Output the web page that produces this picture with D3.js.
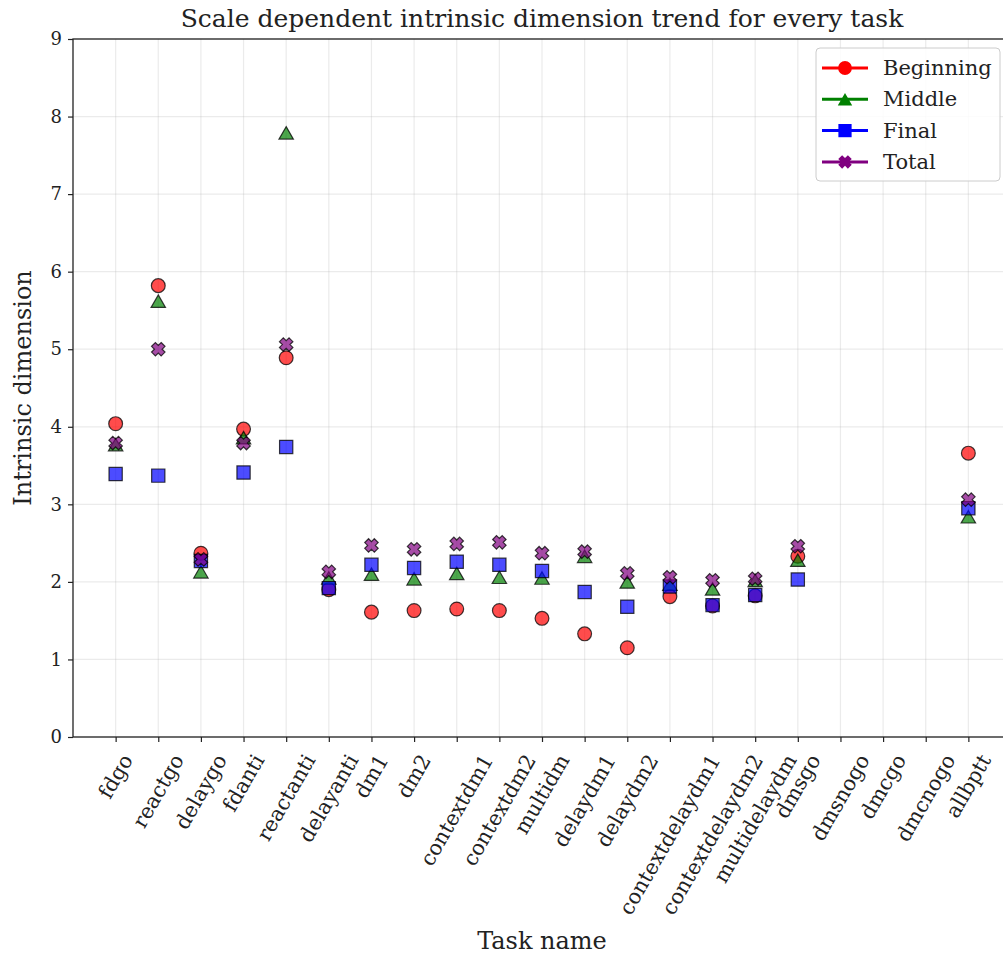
<!DOCTYPE html>
<html>
<head>
<meta charset="utf-8">
<script src="https://cdn.jsdelivr.net/npm/d3@7/dist/d3.min.js"></script>
<style>
  html, body { margin: 0; padding: 0; background: #fff; }
  svg { display: block; }
  text { font-family: "DejaVu Serif", serif; fill: #222; }
</style>
</head>
<body>
<svg id="chart" width="1003" height="955"></svg>
<script>
// Tasks along the x axis
const tasks = ["fdgo", "reactgo", "delaygo", "fdanti", "reactanti", "delayanti", "dm1", "dm2",
  "contextdm1", "contextdm2", "multidm", "delaydm1", "delaydm2", "contextdelaydm1",
  "contextdelaydm2", "multidelaydm", "dmsgo", "dmsnogo", "dmcgo", "dmcnogo", "allbptt"];

// Intrinsic dimension per phase (null = not measured)
const beginning = [4.04, 5.82, 2.37, 3.97, 4.89, 1.90, 1.61, 1.63, 1.65, 1.63, 1.53, 1.33, 1.15,
  1.81, 1.69, 1.82, 2.33, null, null, null, 3.66];
const middle = [3.77, 5.62, 2.13, 3.86, 7.79, 2.05, 2.10, 2.04, 2.11, 2.06, 2.05, 2.33, 2.00,
  1.97, 1.91, 2.02, 2.28, null, null, null, 2.84];
const final = [3.39, 3.37, 2.27, 3.41, 3.74, 1.92, 2.22, 2.18, 2.26, 2.22, 2.14, 1.87, 1.68,
  1.94, 1.70, 1.83, 2.03, null, null, null, 2.95];
const total = [3.79, 5.00, 2.29, 3.79, 5.06, 2.13, 2.47, 2.42, 2.49, 2.51, 2.37, 2.39, 2.11,
  2.06, 2.02, 2.04, 2.46, null, null, null, 3.06];

const yTicks = [0, 1, 2, 3, 4, 5, 6, 7, 8, 9];

const series = [
  { name: "Beginning", values: beginning, color: "red", symbol: d3.symbolCircle, size: 150 },
  { name: "Middle", values: middle, color: "green", symbol: d3.symbolTriangle, size: 90 },
  { name: "Final", values: final, color: "blue", symbol: d3.symbolSquare, size: 175 },
  { name: "Total", values: total, color: "purple", symbol: "X", size: 0 }
];

// Filled "X" marker: a thick plus sign turned by 45 degrees
function xPath() {
  const r = 6.8, w = 0.4 * r;
  const plus = [[-w, -r], [w, -r], [w, -w], [r, -w], [r, w], [w, w], [w, r], [-w, r],
    [-w, w], [-r, w], [-r, -w], [-w, -w]];
  const c = Math.SQRT1_2;
  const pts = plus.map(([px, py]) => [(px - py) * c, (px + py) * c]);
  return "M" + pts.map(p => p.map(v => v.toFixed(2)).join(",")).join("L") + "Z";
}
function markerPath(s) {
  if (s.symbol === "X") return xPath();
  return d3.symbol(s.symbol, s.size)();
}
// Triangles are shifted so their bounding box, not their centroid, sits on the value
function markerShift(s) {
  return s.symbol === d3.symbolTriangle ? Math.sqrt(s.size / (3 * Math.sqrt(3))) / 2 : 0;
}

const svg = d3.select("#chart");
const plotLeft = 73, plotRight = 1011, plotTop = 39, plotBottom = 737;

const x = d3.scalePoint().domain(tasks).range([plotLeft, plotRight]).padding(1);
const y = d3.scaleLinear().domain([0, 9]).range([plotBottom, plotTop]);

// Grid
const grid = svg.append("g");
grid.selectAll("line.gx").data(tasks).join("line")
  .attr("x1", d => x(d)).attr("x2", d => x(d)).attr("y1", plotTop).attr("y2", plotBottom)
  .attr("stroke", "#b0b0b0").attr("stroke-opacity", 0.25).attr("stroke-width", 1.2);
grid.selectAll("line.gy").data(yTicks).join("line")
  .attr("x1", plotLeft).attr("x2", plotRight).attr("y1", d => y(d)).attr("y2", d => y(d))
  .attr("stroke", "#b0b0b0").attr("stroke-opacity", 0.25).attr("stroke-width", 1.2);

// Points
series.forEach(s => {
  svg.append("g").selectAll("path")
    .data(s.values.map((v, i) => ({ v, t: tasks[i] })).filter(d => d.v !== null))
    .join("path")
    .attr("d", markerPath(s))
    .attr("transform", d => `translate(${x(d.t)},${y(d.v) + markerShift(s)})`)
    .attr("fill", s.color).attr("fill-opacity", 0.7)
    .attr("stroke", "#000").attr("stroke-opacity", 0.75).attr("stroke-width", 1.2);
});

// Spines
svg.append("rect").attr("x", plotLeft).attr("y", plotTop)
  .attr("width", plotRight - plotLeft).attr("height", plotBottom - plotTop)
  .attr("fill", "none").attr("stroke", "#222").attr("stroke-width", 1.3);

// Axes
const yAxis = d3.axisLeft(y).tickValues(yTicks).tickSize(5).tickPadding(6).tickFormat(d3.format("d"));
const gy = svg.append("g").attr("transform", `translate(${plotLeft},0)`).call(yAxis);
gy.select(".domain").remove();
gy.selectAll("line").attr("stroke", "#222").attr("stroke-width", 1.2);
gy.selectAll("text").attr("font-size", 18).attr("font-family", "DejaVu Serif").attr("fill", "#222");

const xAxis = d3.axisBottom(x).tickSize(5).tickFormat("");
const gx = svg.append("g").attr("transform", `translate(0,${plotBottom})`).call(xAxis);
gx.select(".domain").remove();
gx.selectAll("line").attr("stroke", "#222").attr("stroke-width", 1.2);

// Rotated task labels, bounding box centred on each tick, top just below it
const labelTop = 751, labelSize = 20.8;
const lg = svg.append("g");
tasks.forEach(t => {
  const txt = lg.append("text").text(t)
    .attr("font-size", labelSize).attr("text-anchor", "middle").attr("dominant-baseline", "central");
  const w = txt.node().getComputedTextLength();
  const h = labelSize;
  const a = Math.PI / 3;
  const bh = w * Math.sin(a) + h * Math.cos(a);
  txt.attr("transform", `translate(${x(t)},${labelTop + bh / 2}) rotate(-60)`);
});

// Titles
svg.append("text").attr("x", (plotLeft + plotRight) / 2).attr("y", 27).attr("text-anchor", "middle")
  .attr("font-size", 25).text("Scale dependent intrinsic dimension trend for every task");
svg.append("text").attr("x", (plotLeft + plotRight) / 2).attr("y", 949).attr("text-anchor", "middle")
  .attr("font-size", 24).text("Task name");
svg.append("text").attr("transform", `translate(31,${(plotTop + plotBottom) / 2}) rotate(-90)`)
  .attr("text-anchor", "middle").attr("font-size", 24).text("Intrinsic dimension");

// Legend
const legend = svg.append("g").attr("transform", "translate(816,48)");
legend.append("rect").attr("x", 0).attr("y", 0).attr("width", 184).attr("height", 133).attr("rx", 4)
  .attr("fill", "#fff").attr("fill-opacity", 0.85).attr("stroke", "#ccc").attr("stroke-width", 1);
series.forEach((s, i) => {
  const ly = 20 + i * 31.3;
  legend.append("line").attr("x1", 6).attr("x2", 52).attr("y1", ly).attr("y2", ly)
    .attr("stroke", s.color).attr("stroke-width", 3);
  legend.append("path").attr("d", markerPath(s))
    .attr("transform", `translate(29,${ly + markerShift(s)})`)
    .attr("fill", s.color);
  legend.append("text").attr("x", 67).attr("y", ly).attr("dominant-baseline", "central")
    .attr("font-size", 21).text(s.name);
});
</script>
</body>
</html>
